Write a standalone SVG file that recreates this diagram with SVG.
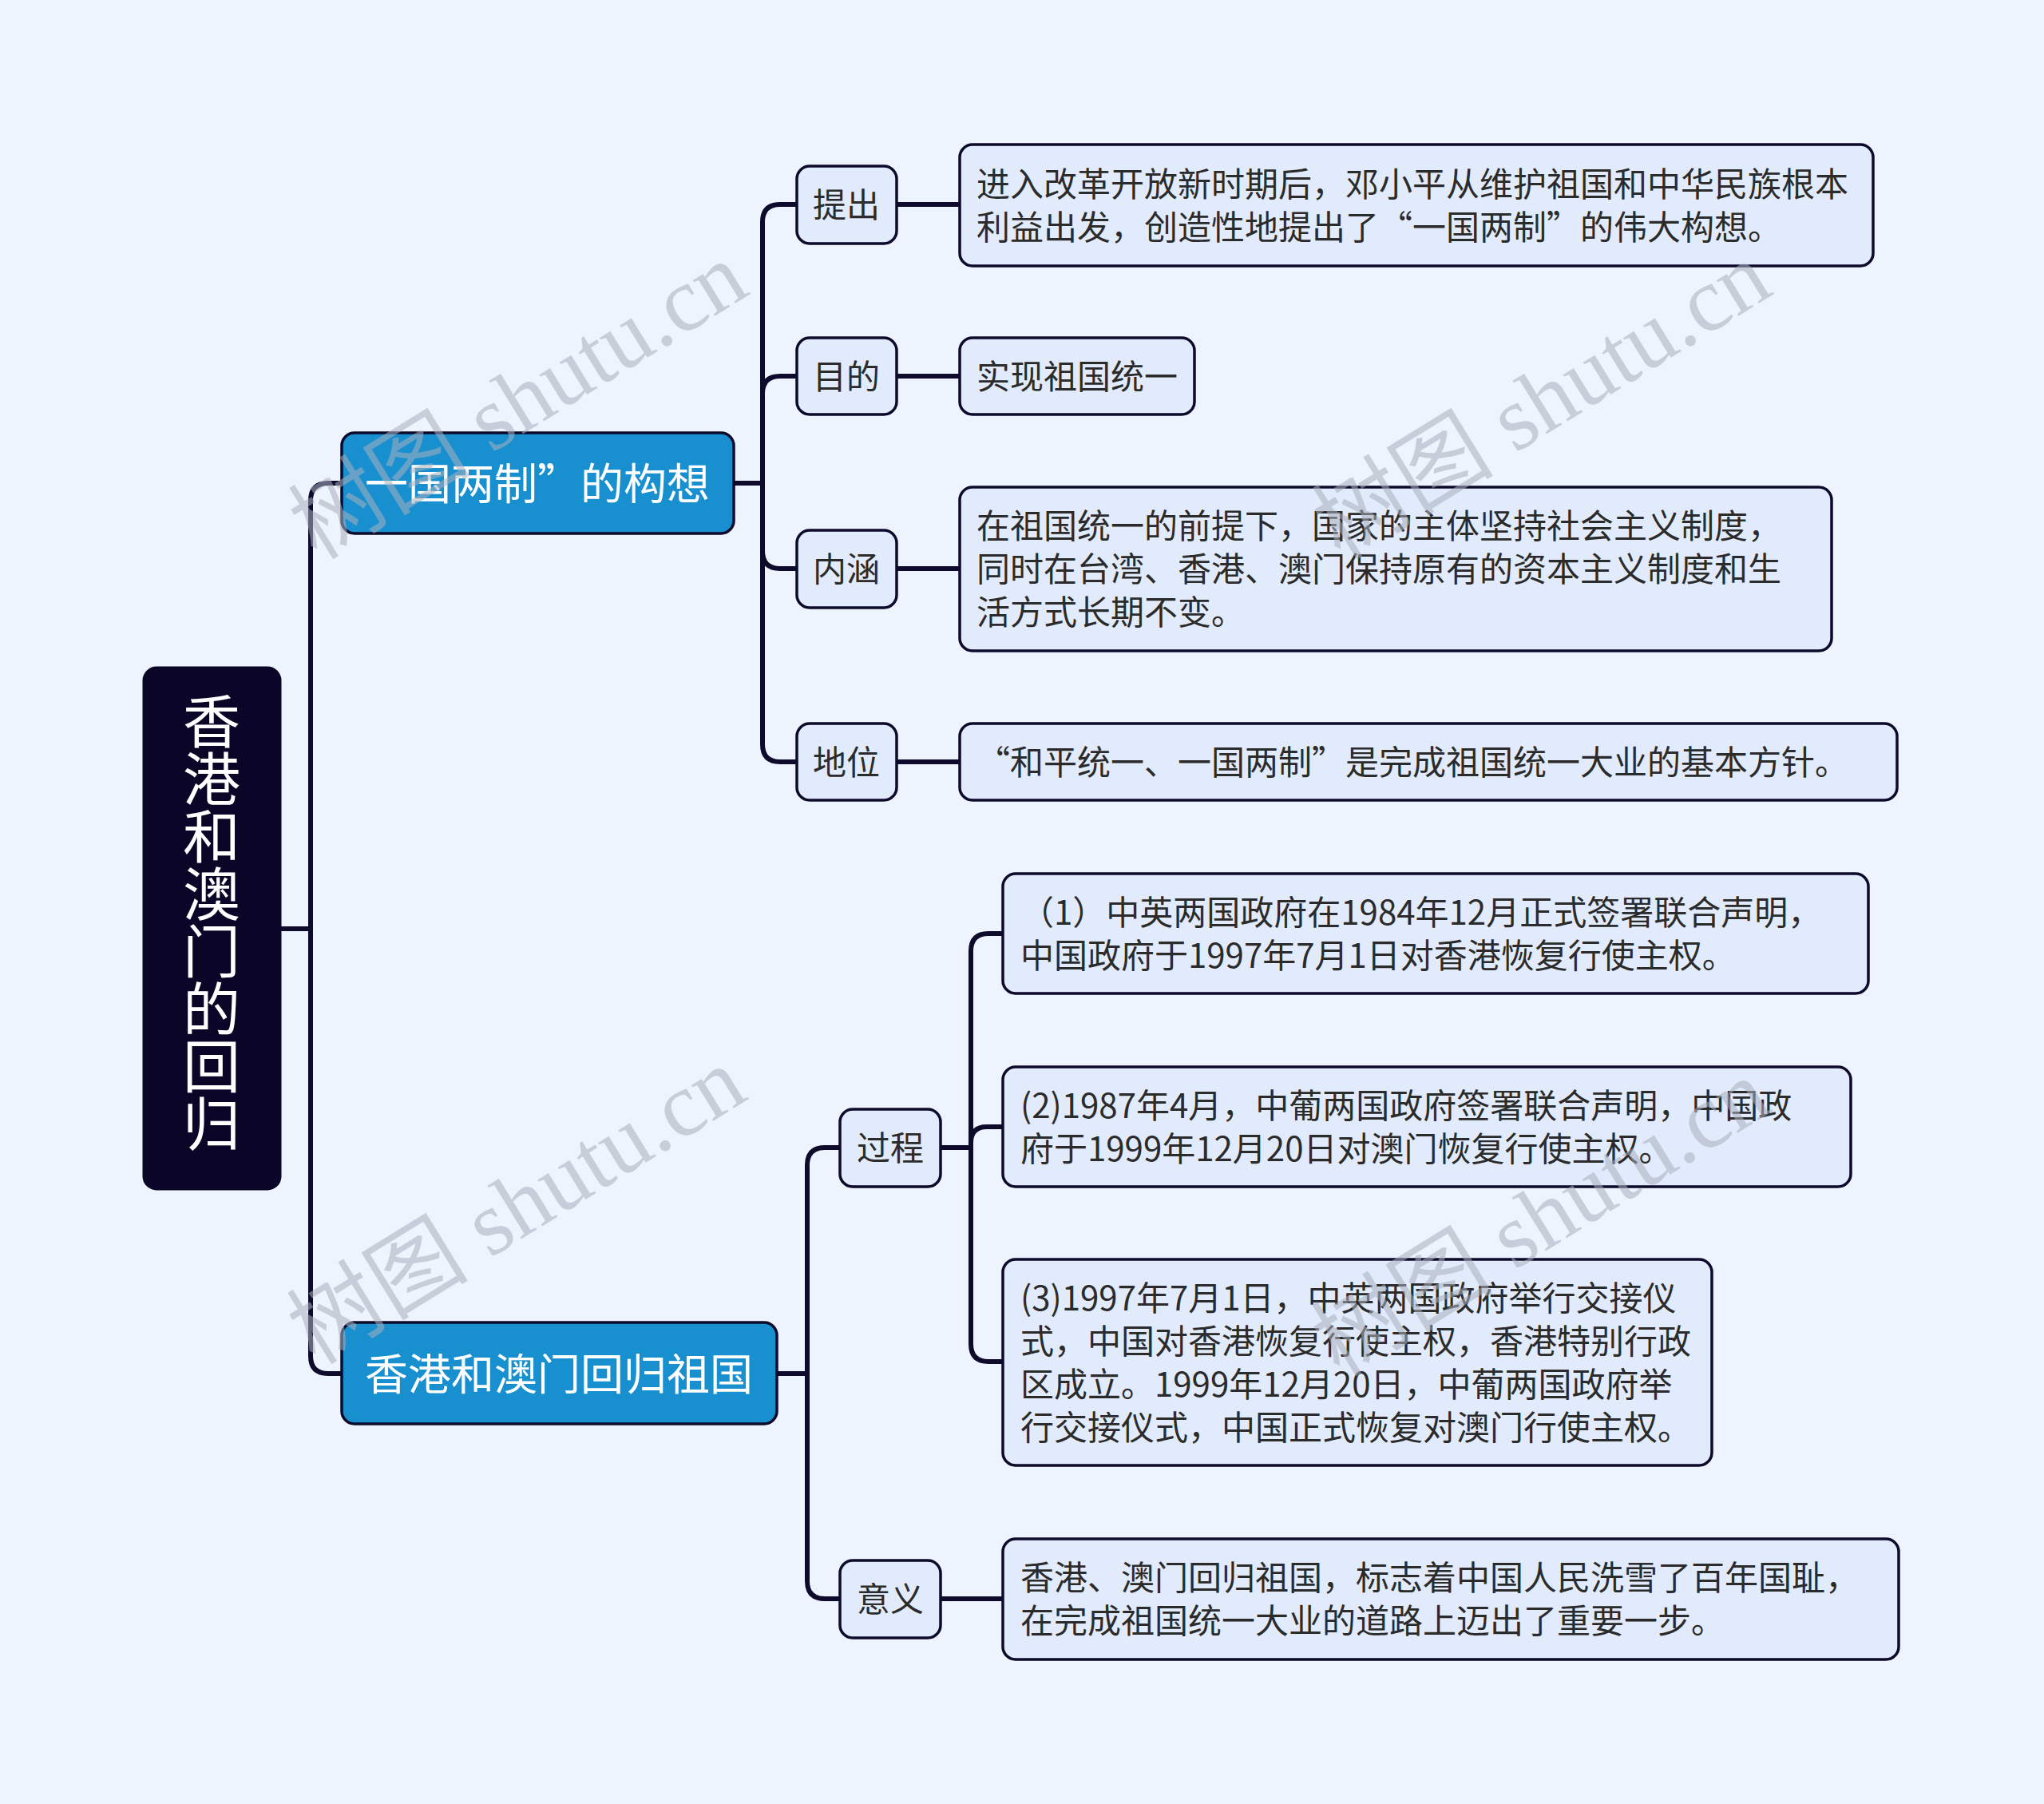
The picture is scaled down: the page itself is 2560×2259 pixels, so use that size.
<svg xmlns="http://www.w3.org/2000/svg" width="2560" height="2259" viewBox="0 0 2560 2259">
<style>
.bg{fill:#eef4fe}
.conn{fill:none;stroke:#0d0a2b;stroke-width:6;stroke-linecap:round;stroke-linejoin:round}
.root{fill:#0b0628;stroke:#0b0628;stroke-width:3}
.main{fill:#1890d0;stroke:#0d0a2b;stroke-width:3.5}
.sub{fill:#e2ebfc;stroke:#0d0a2b;stroke-width:3.5}
text{font-family:"Noto Sans CJK SC","Noto Sans",sans-serif;dominant-baseline:central}
.rt{fill:#ffffff;font-size:72px;writing-mode:vertical-rl}
.mt{fill:#ffffff;font-size:54px}
.st{fill:#2b2b2b;font-size:42px}
.wm{font-family:"Liberation Serif","Noto Sans CJK SC",serif;font-size:114px;fill:#a9b0bd;opacity:0.55}
</style>
<rect class="bg" x="0" y="0" width="2560" height="2259"/>
<g id="connectors">
<path class="conn" d="M351 1163 H389 V627 Q389 605 411 605 H428"/>
<path class="conn" d="M351 1163 H389 V1698 Q389 1720 411 1720 H428"/>
<path class="conn" d="M919 605 H955 V278 Q955 256 977 256 H998"/>
<path class="conn" d="M919 605 H955 V493 Q955 471 977 471 H998"/>
<path class="conn" d="M919 605 H955 V690 Q955 712 977 712 H998"/>
<path class="conn" d="M919 605 H955 V932 Q955 954 977 954 H998"/>
<path class="conn" d="M1123 256 H1202"/>
<path class="conn" d="M1123 471 H1202"/>
<path class="conn" d="M1123 712 H1202"/>
<path class="conn" d="M1123 954 H1202"/>
<path class="conn" d="M973 1720 H1011 V1459 Q1011 1437 1033 1437 H1052"/>
<path class="conn" d="M973 1720 H1011 V1980 Q1011 2002 1033 2002 H1052"/>
<path class="conn" d="M1178 1437 H1216 V1191 Q1216 1169 1238 1169 H1256"/>
<path class="conn" d="M1178 1437 H1216 V1431 Q1216 1411 1236 1411 H1256"/>
<path class="conn" d="M1178 1437 H1216 V1683 Q1216 1705 1238 1705 H1256"/>
<path class="conn" d="M1178 2002 H1256"/>
</g>
<g id="root">
<rect class="root" x="180" y="836" width="171" height="653" rx="16"/>
<text class="rt" x="265" y="1155" text-anchor="middle">香港和澳门的回归</text>
</g>
<g id="branch1">
<rect class="main" x="428" y="542" width="491" height="126" rx="16"/>
<text class="mt" x="673" y="602" text-anchor="middle">一国两制”的构想</text>
</g>
<g id="branch2">
<rect class="main" x="428" y="1656" width="545" height="127" rx="16"/>
<text class="mt" x="700" y="1717" text-anchor="middle">香港和澳门回归祖国</text>
</g>
<g id="n-tichu">
<rect class="sub" x="998" y="208" width="125" height="97" rx="16"/>
<text class="st" x="1060" y="253" text-anchor="middle">提出</text>
</g>
<g id="d-tichu">
<rect class="sub" x="1202" y="181" width="1144" height="152" rx="16"/>
<text class="st"><tspan x="1223" y="227">进入改革开放新时期后，邓小平从维护祖国和中华民族根本</tspan><tspan x="1223" y="281">利益出发，创造性地提出了“一国两制”的伟大构想。</tspan></text>
</g>
<g id="n-mudi">
<rect class="sub" x="998" y="423" width="125" height="96" rx="16"/>
<text class="st" x="1060" y="468" text-anchor="middle">目的</text>
</g>
<g id="d-mudi">
<rect class="sub" x="1202" y="423" width="294" height="96" rx="16"/>
<text class="st" x="1223" y="468">实现祖国统一</text>
</g>
<g id="n-neihan">
<rect class="sub" x="998" y="664" width="125" height="97" rx="16"/>
<text class="st" x="1060" y="709" text-anchor="middle">内涵</text>
</g>
<g id="d-neihan">
<rect class="sub" x="1202" y="610" width="1092" height="205" rx="16"/>
<text class="st"><tspan x="1223" y="655">在祖国统一的前提下，国家的主体坚持社会主义制度，</tspan><tspan x="1223" y="709">同时在台湾、香港、澳门保持原有的资本主义制度和生</tspan><tspan x="1223" y="763">活方式长期不变。</tspan></text>
</g>
<g id="n-diwei">
<rect class="sub" x="998" y="906" width="125" height="96" rx="16"/>
<text class="st" x="1060" y="951" text-anchor="middle">地位</text>
</g>
<g id="d-diwei">
<rect class="sub" x="1202" y="906" width="1174" height="96" rx="16"/>
<text class="st" x="1223" y="951">“和平统一、一国两制”是完成祖国统一大业的基本方针。</text>
</g>
<g id="n-guocheng">
<rect class="sub" x="1052" y="1389" width="126" height="97" rx="16"/>
<text class="st" x="1115" y="1434" text-anchor="middle">过程</text>
</g>
<g id="d-p1">
<rect class="sub" x="1256" y="1094" width="1084" height="150" rx="16"/>
<text class="st"><tspan x="1278" y="1139">（1）中英两国政府在1984年12月正式签署联合声明，</tspan><tspan x="1278" y="1193">中国政府于1997年7月1日对香港恢复行使主权。</tspan></text>
</g>
<g id="d-p2">
<rect class="sub" x="1256" y="1336" width="1062" height="150" rx="16"/>
<text class="st"><tspan x="1278" y="1381">(2)1987年4月，中葡两国政府签署联合声明，中国政</tspan><tspan x="1278" y="1435">府于1999年12月20日对澳门恢复行使主权。</tspan></text>
</g>
<g id="d-p3">
<rect class="sub" x="1256" y="1577" width="888" height="258" rx="16"/>
<text class="st"><tspan x="1278" y="1622">(3)1997年7月1日，中英两国政府举行交接仪</tspan><tspan x="1278" y="1676">式，中国对香港恢复行使主权，香港特别行政</tspan><tspan x="1278" y="1730">区成立。1999年12月20日，中葡两国政府举</tspan><tspan x="1278" y="1784">行交接仪式，中国正式恢复对澳门行使主权。</tspan></text>
</g>
<g id="n-yiyi">
<rect class="sub" x="1052" y="1954" width="126" height="97" rx="16"/>
<text class="st" x="1115" y="1999" text-anchor="middle">意义</text>
</g>
<g id="d-yiyi">
<rect class="sub" x="1256" y="1927" width="1122" height="151" rx="16"/>
<text class="st"><tspan x="1278" y="1972">香港、澳门回归祖国，标志着中国人民洗雪了百年国耻，</tspan><tspan x="1278" y="2026">在完成祖国统一大业的道路上迈出了重要一步。</tspan></text>
</g>
<g id="watermarks">
<text class="wm" text-anchor="middle" transform="translate(649 502) rotate(-31.6)">树图 shutu.cn</text>
<text class="wm" text-anchor="middle" transform="translate(1931 502) rotate(-31.6)">树图 shutu.cn</text>
<text class="wm" text-anchor="middle" transform="translate(647 1510) rotate(-31.6)">树图 shutu.cn</text>
<text class="wm" text-anchor="middle" transform="translate(1930 1525) rotate(-31.6)">树图 shutu.cn</text>
</g>
</svg>
